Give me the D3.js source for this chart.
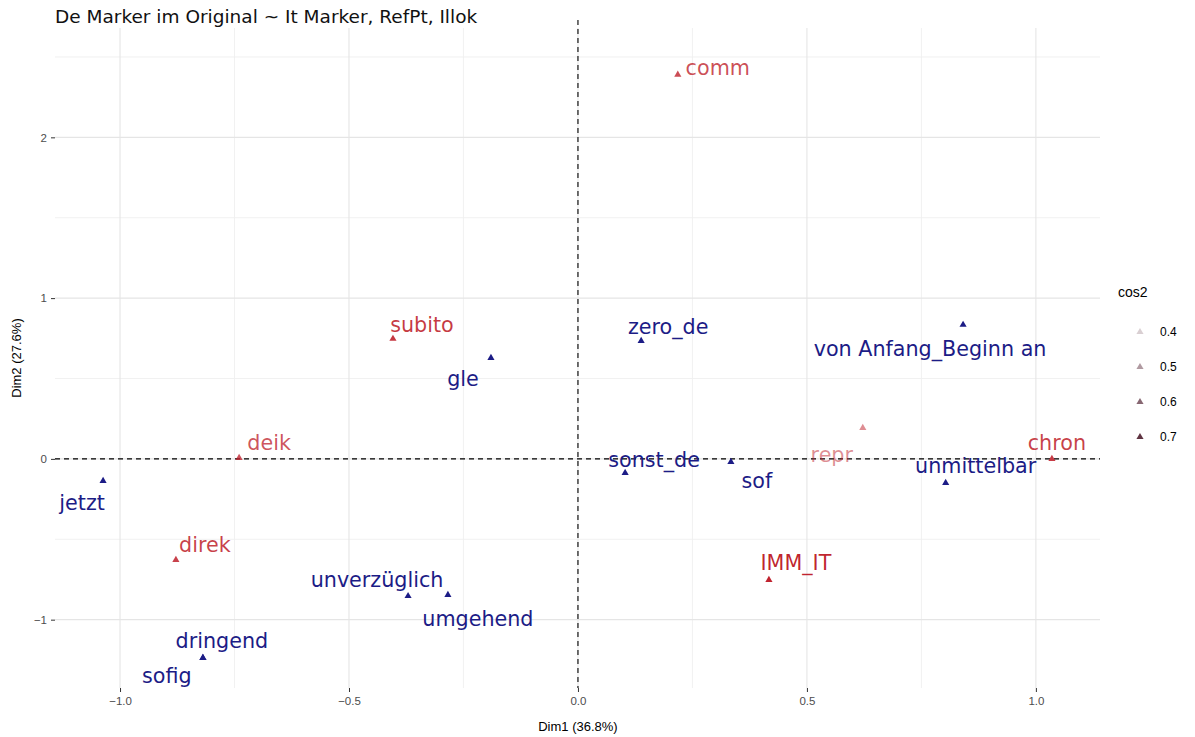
<!DOCTYPE html>
<html>
<head>
<meta charset="utf-8">
<script src="https://cdn.jsdelivr.net/npm/d3@7"></script>
<style>
  html, body { margin: 0; padding: 0; background: #fff; }
  svg { display: block; }
</style>
</head>
<body>
<svg id="chart" width="1195" height="737"></svg>
<script>
// Column categories (Italian markers etc.), coordinates on Dim1/Dim2 and cos2 quality
const colNames = ["comm", "subito", "deik", "direk", "repr", "chron", "IMM_IT"];
const colDim1  = [0.218, -0.404, -0.740, -0.878, 0.622, 1.035, 0.417];
const colDim2  = [2.390, 0.747, 0.006, -0.628, 0.193, 0.000, -0.753];
const colCos2  = [0.66, 0.70, 0.65, 0.68, 0.53, 0.69, 0.74];

// Row categories (German markers)
const rowNames = ["gle", "zero_de", "von Anfang_Beginn an", "sonst_de", "sof", "unmittelbar",
                  "jetzt", "unverzüglich", "umgehend", "dringend", "sofig"];
const rowDim1  = [-0.190, 0.138, 0.841, 0.103, 0.334, 0.803, -1.037, -0.371, -0.284, -0.819, -0.819];
const rowDim2  = [0.628, 0.734, 0.834, -0.087, -0.019, -0.149, -0.137, -0.853, -0.846, -1.238, -1.238];

// Axis ticks and legend breaks
const xTicks = [-1.0, -0.5, 0.0, 0.5, 1.0];
const yTicks = [-1, 0, 1, 2];
const cos2Breaks = [0.4, 0.5, 0.6, 0.7];

// Label placement (pixel offsets of each label from its point, repel-style)
const colLabelOffset = [[40, -7], [29, -14], [30, -15], [29, -15], [-31, 27], [5, -16], [27, -17]];
const rowLabelOffset = [[-28, 21], [27, -14], [-33, 24], [29, -13], [26, 19], [30, -17],
                        [-21, 22], [-31, -16], [30, 24], [19, -17], [-36, 18]];

const svg = d3.select("#chart");
const panel = { left: 55, right: 1100, top: 28, bottom: 688 };

const x = d3.scaleLinear().domain([-1.142, 1.140]).range([panel.left, panel.right]);
const y = d3.scaleLinear().domain([-1.425, 2.680]).range([panel.bottom, panel.top]);
const alpha = d3.scaleLinear().domain([0.35, 0.75]).range([0.1, 1]).clamp(true);

const RED = "#BE1E2A";
const BLUE = "#1C1C86";
const labelFont = "'DejaVu Sans', sans-serif";
const axisFont = "'Liberation Sans', Arial, sans-serif";

// Grid: minor lines at half steps, major at ticks
const g = svg.append("g");
const xMinor = [-0.75, -0.25, 0.25, 0.75];
const yMinor = [-0.5, 0.5, 1.5, 2.5];
g.selectAll("line.xminor").data(xMinor).join("line")
  .attr("x1", d => x(d)).attr("x2", d => x(d))
  .attr("y1", panel.top).attr("y2", panel.bottom)
  .attr("stroke", "#efefef").attr("stroke-width", 0.9);
g.selectAll("line.yminor").data(yMinor).join("line")
  .attr("y1", d => y(d)).attr("y2", d => y(d))
  .attr("x1", panel.left).attr("x2", panel.right)
  .attr("stroke", "#efefef").attr("stroke-width", 0.9);
g.selectAll("line.xmajor").data(xTicks).join("line")
  .attr("x1", d => x(d)).attr("x2", d => x(d))
  .attr("y1", panel.top).attr("y2", panel.bottom)
  .attr("stroke", "#e5e5e5").attr("stroke-width", 1.1);
g.selectAll("line.ymajor").data(yTicks).join("line")
  .attr("y1", d => y(d)).attr("y2", d => y(d))
  .attr("x1", panel.left).attr("x2", panel.right)
  .attr("stroke", "#e5e5e5").attr("stroke-width", 1.1);

// Axes (ticks and labels only)
const xAxis = d3.axisBottom(x).tickValues(xTicks).tickFormat(d3.format(".1f")).tickSize(4).tickPadding(5);
const yAxis = d3.axisLeft(y).tickValues(yTicks).tickFormat(d3.format("d")).tickSize(4).tickPadding(4);
const gx = svg.append("g").attr("transform", `translate(0,${panel.bottom})`).call(xAxis);
const gy = svg.append("g").attr("transform", `translate(${panel.left},0)`).call(yAxis);
[gx, gy].forEach(a => {
  a.select(".domain").remove();
  a.selectAll(".tick line").attr("stroke", "#333").attr("stroke-width", 1);
  a.selectAll(".tick text").attr("fill", "#4d4d4d").style("font-family", axisFont).style("font-size", "11.5px");
});

// Reference lines through the origin
svg.append("line")
  .attr("x1", x(0)).attr("x2", x(0)).attr("y1", panel.top - 8).attr("y2", panel.bottom)
  .attr("stroke", "#000").attr("stroke-width", 1.1).attr("stroke-dasharray", "5,4");
svg.append("line")
  .attr("y1", y(0)).attr("y2", y(0)).attr("x1", panel.left).attr("x2", panel.right)
  .attr("stroke", "#000").attr("stroke-width", 1.1).attr("stroke-dasharray", "5,4");

const tri = d3.symbol().type(d3.symbolTriangle).size(22);

// Row points (blue)
const rows = rowNames.map((n, i) => ({ name: n, d1: rowDim1[i], d2: rowDim2[i], off: rowLabelOffset[i] }));
svg.append("g").selectAll("path").data(rows).join("path")
  .attr("d", tri).attr("transform", d => `translate(${x(d.d1)},${y(d.d2)})`)
  .attr("fill", BLUE);
svg.append("g").selectAll("text").data(rows).join("text")
  .attr("x", d => x(d.d1) + d.off[0]).attr("y", d => y(d.d2) + d.off[1])
  .attr("text-anchor", "middle").attr("dominant-baseline", "central")
  .style("font-family", labelFont).style("font-size", "20.7px")
  .attr("fill", BLUE).text(d => d.name);

// Column points (red, transparency by cos2)
const cols = colNames.map((n, i) => ({ name: n, d1: colDim1[i], d2: colDim2[i], cos2: colCos2[i], off: colLabelOffset[i] }));
svg.append("g").selectAll("path").data(cols).join("path")
  .attr("d", tri).attr("transform", d => `translate(${x(d.d1)},${y(d.d2)})`)
  .attr("fill", RED).attr("fill-opacity", d => alpha(d.cos2));
svg.append("g").selectAll("text").data(cols).join("text")
  .attr("x", d => x(d.d1) + d.off[0]).attr("y", d => y(d.d2) + d.off[1])
  .attr("text-anchor", "middle").attr("dominant-baseline", "central")
  .style("font-family", labelFont).style("font-size", "20.7px")
  .attr("fill", RED).attr("fill-opacity", d => alpha(d.cos2)).text(d => d.name);

// Title and axis titles
svg.append("text").attr("x", panel.left).attr("y", 23)
  .style("font-family", labelFont).style("font-size", "18.5px").attr("fill", "#111")
  .text("De Marker im Original ~ It Marker, RefPt, Illok");
svg.append("text").attr("x", x(0)).attr("y", 731).attr("text-anchor", "middle")
  .style("font-family", axisFont).style("font-size", "13px").attr("fill", "#000")
  .text("Dim1 (36.8%)");
svg.append("text").attr("transform", `translate(21,${(panel.top + panel.bottom) / 2}) rotate(-90)`)
  .attr("text-anchor", "middle")
  .style("font-family", axisFont).style("font-size", "13px").attr("fill", "#000")
  .text("Dim2 (27.6%)");

// Legend for cos2
const lg = svg.append("g").attr("transform", "translate(1118,0)");
lg.append("text").attr("x", 0).attr("y", 297)
  .style("font-family", axisFont).style("font-size", "14px").attr("fill", "#000").text("cos2");
const items = lg.selectAll("g.item").data(cos2Breaks).join("g")
  .attr("transform", (d, i) => `translate(0,${332 + i * 35})`);
items.append("path").attr("d", tri).attr("transform", "translate(22,0)")
  .attr("fill", "#4a1a2a").attr("fill-opacity", d => alpha(d));
items.append("text").attr("x", 42).attr("dominant-baseline", "central")
  .style("font-family", axisFont).style("font-size", "12px").attr("fill", "#000")
  .text(d => d3.format(".1f")(d));
</script>
</body>
</html>
